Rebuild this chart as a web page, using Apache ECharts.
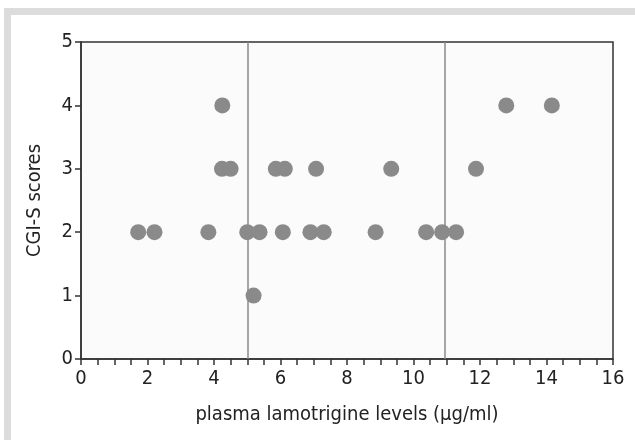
<!DOCTYPE html>
<html>
<head>
<meta charset="utf-8">
<script src="https://cdn.jsdelivr.net/npm/echarts@6/dist/echarts.min.js"></script>
<style>
  html, body { margin: 0; padding: 0; background: #fff; }
  #chart { width: 635px; height: 440px; }
</style>
</head>
<body>
<div id="chart"></div>
<script>
// lamotrigine level (x) and CGI-S score (y) per patient
var levels = [1.72, 2.21, 3.83, 5.0, 5.37, 6.07, 6.9, 7.3, 8.86, 10.38, 10.86, 11.28,
              4.24, 4.5, 5.86, 6.13, 7.07, 9.33, 11.88,
              4.25, 12.79, 14.16,
              5.19];
var scores = [2, 2, 2, 2, 2, 2, 2, 2, 2, 2, 2, 2,
              3, 3, 3, 3, 3, 3, 3,
              4, 4, 4,
              1];
var cutoffs = [5, 10.95];
var xTicks = [0, 2, 4, 6, 8, 10, 12, 14, 16];
var yTicks = [0, 1, 2, 3, 4, 5];

var FONT = '"DejaVu Sans Condensed", "Open Sans", sans-serif';

var chart = echarts.init(document.getElementById('chart'));
chart.setOption({
    animation: false,
    backgroundColor: '#fff',
    textStyle: { fontFamily: FONT },
    graphic: [
        { type: 'rect', shape: { x: 4, y: 8, width: 631, height: 7 }, style: { fill: '#dcdcdc' }, silent: true },
        { type: 'rect', shape: { x: 4, y: 8, width: 7, height: 432 }, style: { fill: '#dcdcdc' }, silent: true }
    ],
    grid: {
        left: 81, top: 42, right: 22, bottom: 81,
        show: true,
        backgroundColor: '#fbfbfb',
        borderColor: '#333',
        borderWidth: 1.5
    },
    xAxis: {
        type: 'value',
        min: xTicks[0],
        max: xTicks[xTicks.length - 1],
        interval: 2,
        name: 'plasma lamotrigine levels (\u03bcg/ml)',
        nameLocation: 'middle',
        nameGap: 46,
        nameTextStyle: { fontSize: 20, color: '#222', fontFamily: FONT },
        axisLine: { lineStyle: { color: '#333', width: 1.5 } },
        axisTick: { show: true, length: 6, lineStyle: { color: '#333', width: 1.5 } },
        minorTick: { show: true, splitNumber: 4, length: 6, lineStyle: { color: '#333', width: 1.5 } },
        axisLabel: { fontSize: 20, color: '#222', margin: 10, fontFamily: FONT },
        splitLine: { show: false }
    },
    yAxis: {
        type: 'value',
        min: yTicks[0],
        max: yTicks[yTicks.length - 1],
        interval: 1,
        name: 'CGI-S scores',
        nameLocation: 'middle',
        nameGap: 36,
        nameTextStyle: { fontSize: 20, color: '#222', fontFamily: FONT },
        axisLine: { show: true, lineStyle: { color: '#333', width: 1.5 } },
        axisTick: { show: true, length: 6, lineStyle: { color: '#333', width: 1.5 } },
        axisLabel: { fontSize: 20, color: '#222', margin: 8, fontFamily: FONT },
        splitLine: { show: false }
    },
    series: [{
        type: 'scatter',
        symbol: 'circle',
        symbolSize: 16,
        itemStyle: { color: '#8a8a8a', opacity: 1 },
        data: levels.map(function (x, i) { return [x, scores[i]]; }),
        markLine: {
            silent: true,
            symbol: 'none',
            label: { show: false },
            lineStyle: { color: '#8a8a8a', width: 1.5, type: 'solid' },
            data: cutoffs.map(function (c) { return { xAxis: c }; })
        },
        z: 3
    }]
});
</script>
</body>
</html>
